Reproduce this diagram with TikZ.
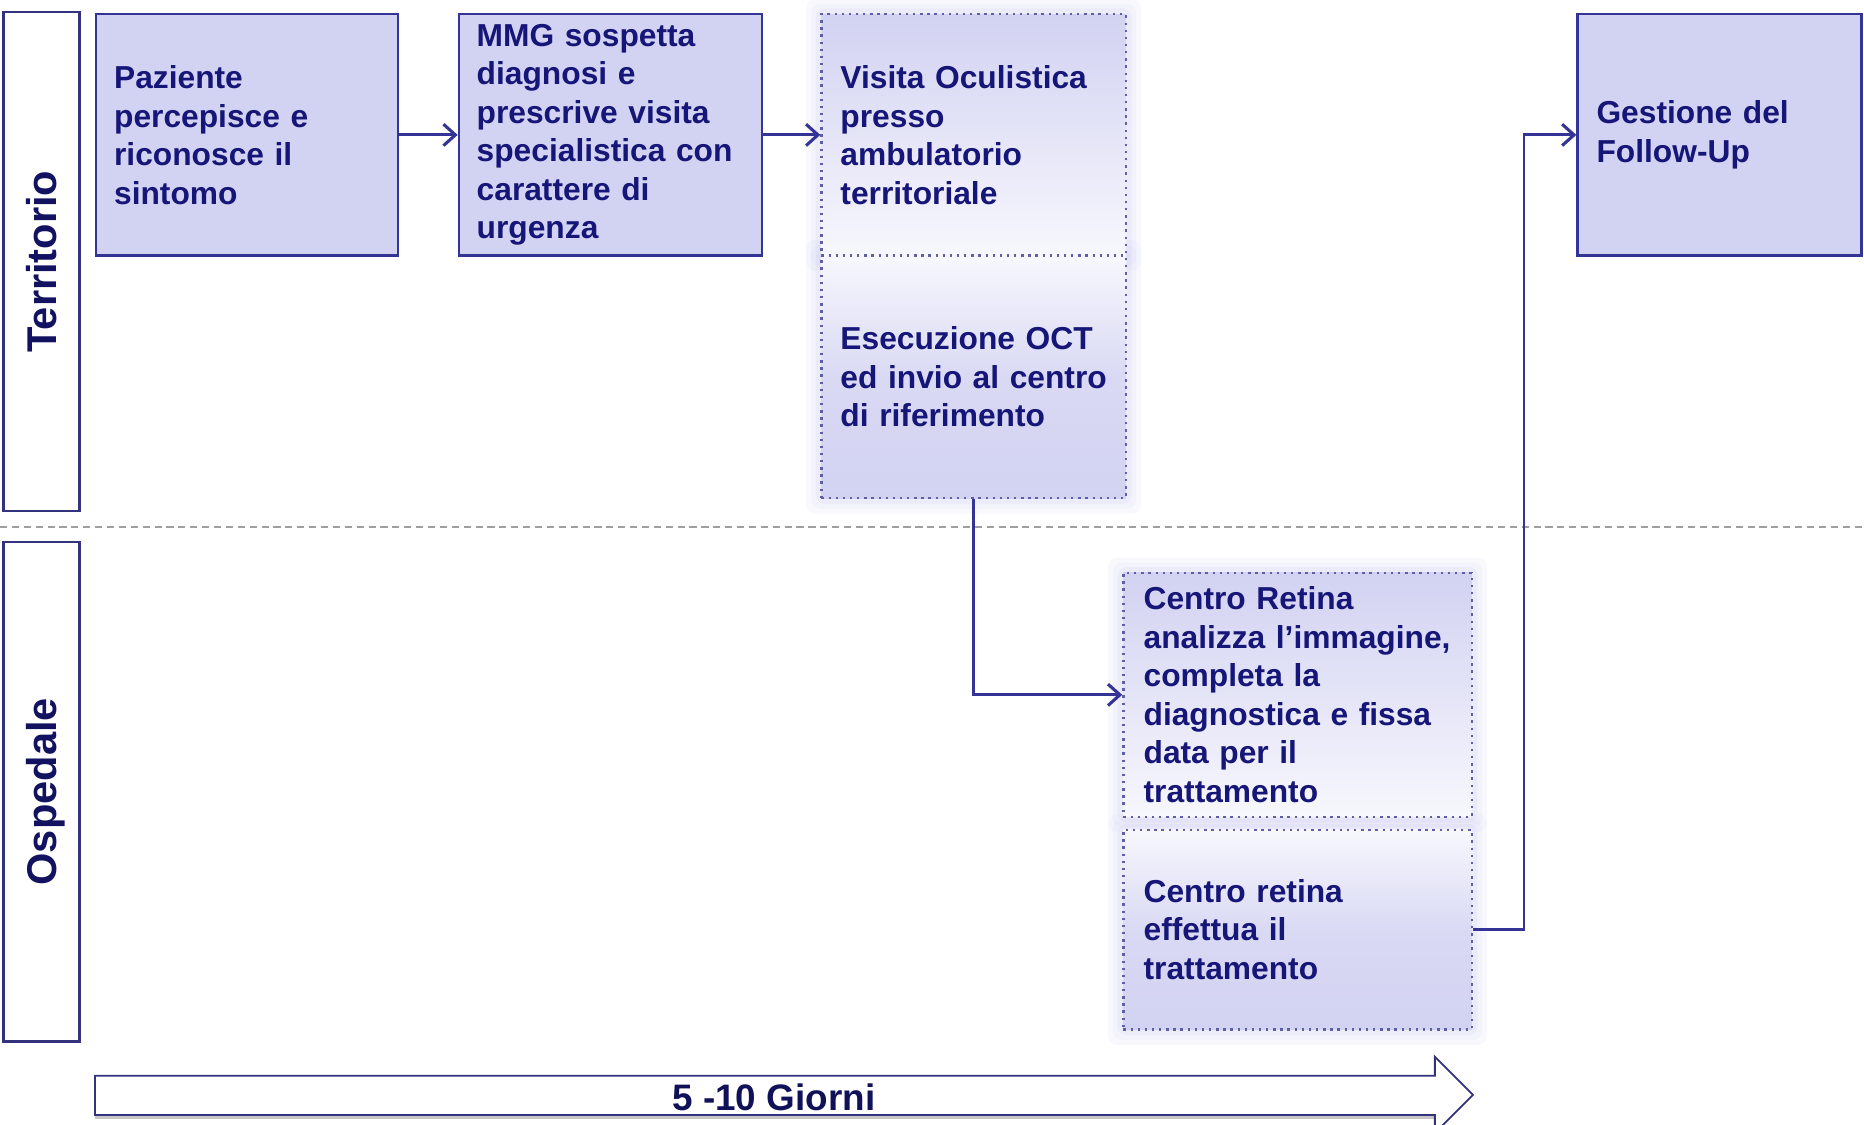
\documentclass[tikz,border=0pt]{standalone}
\usepackage{fontspec}
\setmainfont{Liberation Sans}
\usetikzlibrary{arrows.meta,backgrounds,calc}
\definecolor{lav}{RGB}{210,210,242}
\definecolor{lavlight}{RGB}{247,247,253}
\definecolor{edge}{RGB}{52,52,150}
\definecolor{ink}{RGB}{22,22,120}
\definecolor{dotc}{RGB}{95,95,165}
\definecolor{glowc}{RGB}{196,196,238}
\definecolor{lane}{RGB}{50,50,125}
\hyphenpenalty=10000
\exhyphenpenalty=10000
\begin{document}
\begin{tikzpicture}[x=0.5pt,y=-0.5pt,
 txt/.style={font=\fontsize{13.35pt}{16.2pt}\selectfont\bfseries, text=ink, align=left},
 solidbox/.style={txt, draw=edge, line width=1pt, fill=lav, rectangle, anchor=north west, inner ysep=0pt},
 dotbox/.style={txt, draw=dotc, dotted, line width=1pt, rectangle, anchor=north west, inner ysep=0pt},
 fadedown/.style={top color=lav, bottom color=lavlight},
 fadeup/.style={top color=lavlight, bottom color=lav, middle color=lav!80!lavlight},
 lanebox/.style={draw=lane, line width=1pt, fill=white, rotate=90, font=\fontsize{17.5pt}{20pt}\selectfont\bfseries, text=ink!80!black, inner sep=0pt, text depth=0pt},
 flow/.style={draw=edge, line width=1.2pt, -{Straight Barb[length=5pt,width=9pt,line width=1.3pt]}},
]
\useasboundingbox (0,0) rectangle (1568,946);

% lanes
\node[lanebox, minimum width=210pt, minimum height=32pt] (terr) at (35,220) {Territorio};
\node[lanebox, minimum width=210pt, minimum height=32pt] (osp) at (35,666) {Ospedale};
\draw[gray!75, line width=0.75pt, dash pattern=on 3pt off 2pt] (0,443) -- (1568,443);

% solid boxes
\node[solidbox, inner xsep=7.5pt, text width=112pt, minimum width=127pt, minimum height=101.5pt] (b1) at (80,11)
 {Paziente\\percepisce~e\\riconosce~il\\sintomo};
\node[solidbox, inner xsep=7.5pt, text width=112.5pt, minimum width=127.5pt, minimum height=101.5pt] (b2) at (385,11)
 {MMG~sospetta\\diagnosi~e\\prescrive~visita\\specialistica~con\\carattere~di\\urgenza};
\node[solidbox, inner xsep=8pt, text width=103.5pt, minimum width=119.5pt, minimum height=101.5pt] (b7) at (1326,11)
 {Gestione~del\\Follow-Up};

% dotted gradient boxes
\node[dotbox, fadedown, inner xsep=8pt, text width=112pt, minimum width=128pt, minimum height=101.5pt] (b3) at (690,11)
 {Visita~Oculistica\\presso\\ambulatorio\\territoriale};
\node[dotbox, fadeup, inner xsep=8pt, text width=112pt, minimum width=128pt, minimum height=102pt] (b4) at (690,214)
 {Esecuzione~OCT\\ed~invio~al~centro\\di~riferimento};
\node[dotbox, fadedown, inner xsep=8.5pt, text width=129.5pt, minimum width=146.5pt, minimum height=102.5pt] (b5) at (944,481)
 {Centro~Retina\\analizza~l’immagine,\\completa~la\\diagnostica~e~fissa\\data~per~il\\trattamento};
\node[dotbox, fadeup, inner xsep=8.5pt, text width=129.5pt, minimum width=146.5pt, minimum height=84pt] (b6) at (944,697)
 {Centro~retina\\effettua~il\\trattamento};

% glow
\begin{scope}[on background layer]
\foreach \n in {b3,b4,b5,b6}{
  \foreach \e/\o in {12/0.10, 8/0.12, 4/0.16}{
    \fill[glowc, opacity=\o, rounded corners=4pt] ($(\n.north west)+(-\e,-\e)$) rectangle ($(\n.south east)+(\e,\e)$);
  }
}
\end{scope}

% connectors
\draw[flow] (b1) -- (b2);
\draw[flow] (b2) -- (b3);
\draw[flow] (b4.south) |- (b5.west);
\draw[flow] (b6.east) -- ++(43,0) |- (b7.west);

% time arrow
\draw[gray!45, line width=1pt] (80,940) -- (1207,940) (80,907) -- (1207,907);
\draw[draw=lane, line width=0.75pt, fill=white] (80,905) -- (1207,905) -- (1207,889) -- (1239,921) -- (1207,953) -- (1207,938) -- (80,938) -- cycle;
\node[font=\fontsize{15.5pt}{18pt}\selectfont\bfseries, text=ink!75!black, inner sep=0pt] (days) at (651,923) {5 -10 Giorni};
\end{tikzpicture}
\end{document}
